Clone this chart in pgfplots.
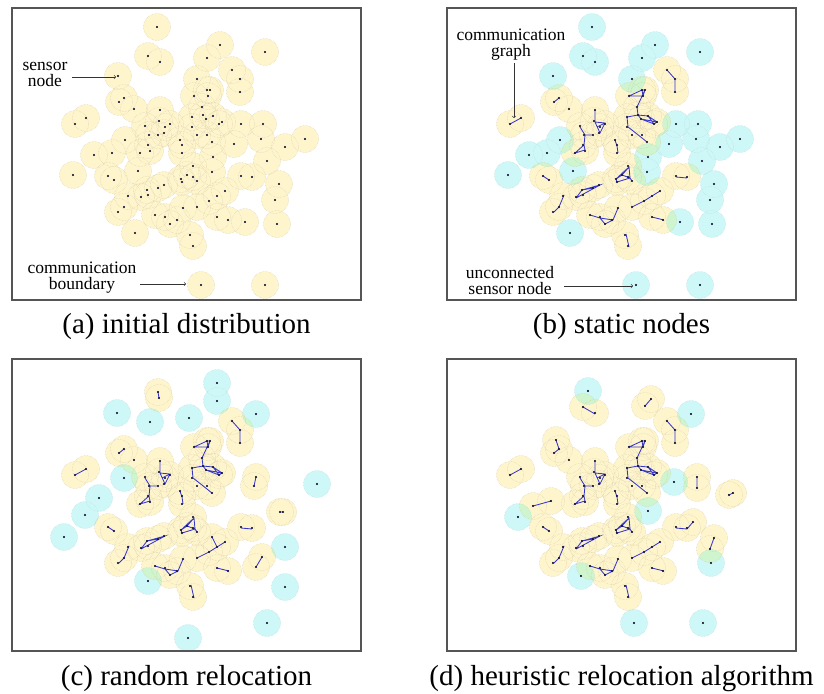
\documentclass[border=0pt]{standalone}
\usepackage{pgfplots}
\usepackage{pgfplotstable}
\pgfplotsset{compat=1.18}
\usepackage{fontspec}
\setmainfont{Liberation Serif}
\definecolor{nodeY}{RGB}{254,245,205}
\definecolor{nodeC}{RGB}{206,247,247}
\definecolor{ringY}{RGB}{222,212,175}
\definecolor{ringC}{RGB}{185,225,225}
\definecolor{graphblue}{RGB}{55,55,255}
\definecolor{framegray}{RGB}{85,85,85}

% connected sensor nodes (initial positions, panel pixels, y downward)
\pgfplotstableread{
X Y
220 62
228 71
228 84
195 82
198 82
182 88
196 88
112 90
107 94
122 101
148 102
190 99
74 110
63 116
180 109
191 107
194 111
201 108
147 113
158 116
153 119
133 118
180 119
207 116
210 114
137 127
146 127
152 125
185 127
195 127
168 132
200 134
136 137
170 137
128 145
138 143
170 145
181 158
175 167
181 169
96 168
102 172
229 168
240 169
169 171
170 174
185 173
152 177
146 180
135 182
136 187
213 183
116 188
129 189
205 188
197 193
112 199
106 204
171 200
185 199
143 207
153 209
205 209
216 212
165 212
158 216
178 227
181 238
}\nodesY

% unconnected sensor nodes (initial positions)
\pgfplotstableread{
X Y
145 19
208 37
253 44
136 48
148 54
195 50
106 68
185 71
229 116
251 116
113 132
222 136
249 131
293 131
273 139
82 147
100 145
201 149
255 153
61 167
126 163
200 164
267 176
263 192
233 214
265 216
123 225
189 277
253 277
}\nodesC

% random relocation: moved nodes
\pgfplotstableread{
X Y
146 33
147 39
242 127
244 118
268 153
271 153
244 208
250 198
200 178
}\cY
\pgfplotstableread{
X Y
205 24
205 42
105 54
138 63
177 59
244 55
112 119
305 125
87 139
73 156
52 178
136 222
273 188
273 228
255 264
176 279
}\cC

% heuristic relocation: moved nodes
\pgfplotstableread{
X Y
136 48
148 54
198 47
204 40
109 81
250 118
250 129
282 136
286 134
86 147
104 142
246 163
267 179
263 190
}\dY
\pgfplotstableread{
X Y
141 32
244 55
227 123
71 158
201 152
264 204
134 217
187 264
256 264
}\dC

% communication graph edges shared by (b), (c), (d)
\pgfplotstableread{
X Y
220 62
228 71
228 84
nan nan
112 90
107 94
nan nan
74 110
63 116
nan nan
182 88
195 82
198 82
196 88
182 88
nan nan
195 82
196 88
nan nan
198 82
190 99
191 107
nan nan
191 107
201 108
210 114
207 116
194 111
191 107
nan nan
201 108
207 116
nan nan
194 111
210 114
nan nan
180 109
191 107
nan nan
180 109
181 119
190 126
200 134
nan nan
148 102
148 114
158 115
153 125
148 114
nan nan
150 119
158 115
nan nan
133 119
138 127
137 137
128 145
138 142
137 137
nan nan
138 127
146 127
nan nan
168 132
170 138
171 145
nan nan
169 171
182 159
183 170
170 174
169 171
nan nan
175 167
182 159
nan nan
175 167
183 170
nan nan
175 167
169 171
nan nan
183 170
185 173
nan nan
129 190
135 182
153 177
129 190
nan nan
135 182
146 180
nan nan
117 187
112 199
107 204
nan nan
185 199
197 193
205 188
213 183
nan nan
143 207
153 210
158 216
166 212
171 200
nan nan
153 210
166 212
nan nan
205 209
217 212
nan nan
179 226
182 239
nan nan
96 168
102 172
nan nan
229 169
240 170
}\edgesBase

\pgfplotstableread{
X Y
146 33
147 39
nan nan
242 127
244 118
nan nan
268 153
271 153
nan nan
244 208
250 198
nan nan
200 178
205 188
}\edgesC

\pgfplotstableread{
X Y
136 48
148 55
nan nan
198 47
204 40
nan nan
109 81
112 90
nan nan
250 118
250 129
nan nan
282 136
286 134
nan nan
86 147
104 142
nan nan
240 170
246 163
nan nan
267 179
263 190
}\edgesD

\pgfplotsset{
  panel/.style={anchor=north west, x=1pt, y=1pt, y dir=reverse,
    xmin=0, xmax=349, ymin=0, ymax=292, ticks=none,
    axis line style={draw=framegray, line width=1.3pt},
    unbounded coords=jump, clip=true},
  yel/.style={only marks, mark=*, mark size=13.5pt, blend mode=darken,
    mark options={fill=nodeY, draw=ringY, line width=0.5pt, densely dotted, blend mode=darken}},
  cya/.style={only marks, mark=*, mark size=13.5pt, blend mode=darken,
    mark options={fill=nodeC, draw=ringC, line width=0.5pt, densely dotted, blend mode=darken}},
  dots/.style={only marks, mark=*, mark size=0.8pt, mark options={fill=graphblue!80!white, draw=none}},
  graph/.style={no markers, draw=graphblue, line width=0.85pt},
}
\tikzset{ann/.style={font=\fontsize{17.5pt}{16pt}\selectfont, align=center, inner sep=0pt},
  annarrow/.style={->, line width=0.6pt, draw=black!80}}

\begin{document}
\begin{tikzpicture}
\useasboundingbox (0pt,0pt) rectangle (824pt,-693pt);

% (a) initial distribution
\begin{axis}[panel, at={(12pt,-8pt)}]
\addplot[yel] table {\nodesY};
\addplot[yel] table {\nodesC};
\addplot[dots] table {\nodesY};
\addplot[dots] table {\nodesC};
\node[ann] at (axis cs:33,66) {sensor\\node};
\draw[annarrow] (axis cs:60,69) -- (axis cs:104,69);
\node[ann] at (axis cs:70,270) {communication\\boundary};
\draw[annarrow] (axis cs:128,276) -- (axis cs:174,276);
\end{axis}

% (b) static nodes
\begin{axis}[panel, at={(447pt,-8pt)}]
\addplot[yel] table {\nodesY};
\addplot[cya] table {\nodesC};
\addplot[graph] table {\edgesBase};
\addplot[dots] table {\nodesY};
\addplot[dots] table {\nodesC};
\node[ann] at (axis cs:64,37) {communication\\graph};
\draw[annarrow] (axis cs:67,55) -- (axis cs:67,110);
\node[ann] at (axis cs:63,273) {unconnected\\sensor node};
\draw[annarrow] (axis cs:117,278) -- (axis cs:186,278);
\end{axis}

% (c) random relocation
\begin{axis}[panel, at={(12pt,-359pt)}]
\addplot[yel] table {\nodesY};
\addplot[yel] table {\cY};
\addplot[cya] table {\cC};
\addplot[graph] table {\edgesBase};
\addplot[graph] table {\edgesC};
\addplot[dots] table {\nodesY};
\addplot[dots] table {\cY};
\addplot[dots] table {\cC};
\end{axis}

% (d) heuristic relocation algorithm
\begin{axis}[panel, at={(447pt,-359pt)}]
\addplot[yel] table {\nodesY};
\addplot[yel] table {\dY};
\addplot[cya] table {\dC};
\addplot[graph] table {\edgesBase};
\addplot[graph] table {\edgesD};
\addplot[dots] table {\nodesY};
\addplot[dots] table {\dY};
\addplot[dots] table {\dC};
\end{axis}

\node[anchor=base, font=\fontsize{29pt}{32pt}\selectfont] at (186.5pt,-333pt) {(a) initial distribution};
\node[anchor=base, font=\fontsize{29pt}{32pt}\selectfont] at (621.5pt,-333pt) {(b) static nodes};
\node[anchor=base, font=\fontsize{29pt}{32pt}\selectfont] at (186.5pt,-685pt) {(c) random relocation};
\node[anchor=base, font=\fontsize{29pt}{32pt}\selectfont] at (621.5pt,-685pt) {(d) heuristic relocation algorithm};
\end{tikzpicture}
\end{document}
